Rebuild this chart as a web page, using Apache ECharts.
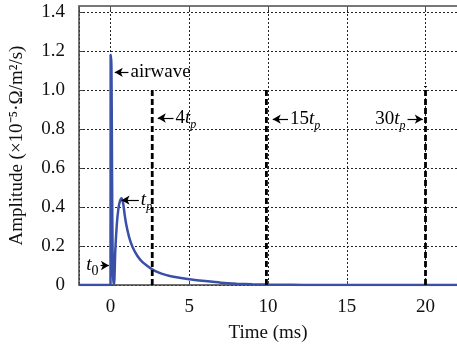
<!DOCTYPE html>
<html>
<head>
<meta charset="utf-8">
<script src="https://cdn.jsdelivr.net/npm/echarts@6/dist/echarts.min.js"></script>
<style>
  html, body { margin: 0; padding: 0; background: #fff; }
  #chart { width: 457px; height: 351px; }
</style>
</head>
<body>
<div id="chart"></div>
<script>
// transient response
const timeMs = [-2, 0, 0.01, 0.06, 0.1, 0.14, 0.2, 0.25, 0.3, 0.4, 0.5, 0.6, 0.7, 0.8, 0.9, 1.0,
  1.2, 1.4, 1.7, 2.0, 2.3, 2.65, 3.0, 3.5, 4.0, 5.0, 6.0, 7.0, 8.0, 9.0, 10.0, 11.5, 13, 22];
const amplitude = [0, 0, 1.18, 1.12, 0.55, 0.1, 0, 0.03, 0.17, 0.31, 0.39, 0.43, 0.445, 0.42, 0.36, 0.31,
  0.24, 0.195, 0.15, 0.12, 0.1, 0.08, 0.066, 0.052, 0.042, 0.029, 0.02, 0.012, 0.007, 0.004, 0.002, 0.001, 0, 0];

// dashed markers at 4tp, 15tp, 30tp
const markerTime = [2.65, 9.9, 20.0];
const markerTop = [1.0, 1.0, 1.02];

// annotations: text, arrow tail, arrow tip, height
const noteText = ['airwave', '4t_p', '15t_p', '30t_p', 't_0', 't_p'];
const noteTail = [1.14, 4.0, 11.27, 18.86, -0.63, 1.8];
const noteTip = [0.27, 3.0, 10.3, 19.83, -0.1, 0.7];
const noteY = [1.09, 0.856, 0.85, 0.85, 0.1, 0.435];

const FONT = 'Liberation Serif';

function richText(s) {
  if (s === 'airwave') return '{n|airwave}';
  const parts = s.split('_');
  let out = '';
  for (const ch of parts[0]) {
    out += ch === 't' ? '{i|t}' : '{n|' + ch + '}';
  }
  if (parts[1]) out += /\d/.test(parts[1]) ? '{d|' + parts[1] + '}' : '{s|' + parts[1] + '}';
  return out;
}

const richStyles = {
  n: { fontFamily: FONT, fontSize: 19, color: '#000' },
  i: { fontFamily: FONT, fontSize: 19, fontStyle: 'italic', color: '#000' },
  s: { fontFamily: FONT, fontSize: 12, fontStyle: 'italic', color: '#000', padding: [13, 0, 0, 0] },
  d: { fontFamily: FONT, fontSize: 14, color: '#000', padding: [12, 0, 0, 0] }
};

const curve = timeMs.map((t, i) => [t, amplitude[i]]);

const markerSeries = markerTime.map((t, i) => ({
  type: 'line',
  data: [[t, 0], [t, markerTop[i]]],
  showSymbol: false,
  lineStyle: { color: '#000', width: 2.8, type: [6, 3] },
  z: 4,
  silent: true
}));

const notePoints = noteText.map((s, i) => ({
  value: [noteTail[i], noteY[i]],
  label: {
    show: true,
    formatter: richText(s),
    position: noteTail[i] > noteTip[i] ? 'right' : 'left',
    distance: 2,
    color: '#000',
    rich: richStyles
  }
}));

const arrows = noteText.map((s, i) => [
  { coord: [noteTail[i], noteY[i]] },
  { coord: [noteTip[i], noteY[i]] }
]);

const chart = echarts.init(document.getElementById('chart'));

const gridLine = { show: true, lineStyle: { color: '#222', width: 1, type: [2, 2] } };
const axisText = { fontFamily: FONT, fontSize: 19, color: '#111' };

chart.setOption({
  animation: false,
  grid: { left: 79, top: 6, right: 0, bottom: 66 },
  xAxis: [{
    type: 'value',
    min: -2,
    max: 22,
    splitNumber: 5,
    name: 'Time (ms)',
    nameLocation: 'middle',
    nameGap: 39,
    nameTextStyle: axisText,
    axisLine: { show: true, onZero: false, lineStyle: { color: '#444', width: 1.5 } },
    axisTick: { show: true, inside: true, length: 4, lineStyle: { color: '#444' } },
    axisLabel: { ...axisText, margin: 13, showMinLabel: false, showMaxLabel: false },
    splitLine: gridLine
  }, {
    type: 'value',
    position: 'top',
    min: -2,
    max: 22,
    splitNumber: 5,
    axisLine: { show: true, onZero: false, lineStyle: { color: '#777', width: 2 } },
    axisTick: { show: true, inside: true, length: 4, lineStyle: { color: '#555' } },
    axisLabel: { show: false },
    splitLine: { show: false }
  }],
  yAxis: {
    type: 'value',
    min: 0,
    max: 1.43,
    splitNumber: 7,
    name: 'Amplitude (×10⁻⁵·Ω/m²/s)',
    nameLocation: 'middle',
    nameGap: 52,
    nameTextStyle: axisText,
    axisLine: { show: true, onZero: false, lineStyle: { color: '#444', width: 1.5 } },
    axisTick: { show: true, inside: true, length: 4, lineStyle: { color: '#444' } },
    axisLabel: {
      ...axisText,
      margin: 14,
      showMaxLabel: false,
      formatter: v => (v === 0 ? '0' : v.toFixed(1))
    },
    splitLine: gridLine
  },
  series: [{
    type: 'line',
    data: curve,
    showSymbol: false,
    smooth: 0.2,
    lineStyle: { color: '#3a50a8', width: 2.5 },
    z: 3,
    silent: true
  }, ...markerSeries, {
    type: 'scatter',
    data: notePoints,
    symbolSize: 0,
    itemStyle: { opacity: 1 },
    silent: true,
    z: 5,
    markLine: {
      silent: true,
      symbol: ['none', 'arrow'],
      symbolSize: [7, 8],
      label: { show: false },
      lineStyle: { color: '#000', width: 1.2, type: 'solid', opacity: 1 },
      data: arrows
    }
  }]
});
</script>
</body>
</html>
